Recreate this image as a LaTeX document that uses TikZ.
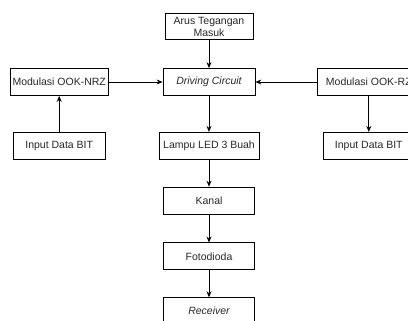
\documentclass[tikz,border=0pt]{standalone}
\usepackage{fontspec}
\setmainfont{Liberation Sans}
\usepackage{tikz}
\usetikzlibrary{positioning}
\usetikzlibrary{arrows.meta}

\begin{document}
\begin{tikzpicture}[blok/.style={rectangle, draw, line width=0.8pt, minimum height=27pt, inner sep=1pt, align=center, text=black!85, font=\fontsize{10.5}{11.5}\selectfont}, panah/.style={-{Stealth[length=6pt, width=5pt]}, line width=0.8pt}]
	\clip (0,0) rectangle (408pt,-321pt);

	\node [blok, minimum width=92pt] (drv) at (209pt,-82pt) {\itshape Driving Circuit};
	\node [blok, minimum width=88pt, minimum height=26pt, above=28pt of drv] (arus) {Arus Tegangan\\Masuk};
	\node [blok, minimum width=98pt, left=54pt of drv] (mod_nrz) {Modulasi OOK-NRZ};
	\node [blok, minimum width=102pt, right=62pt of drv] (mod_rz) {Modulasi OOK-RZ};
	\node [blok, minimum width=92pt, below=36pt of mod_nrz] (in_nrz) {Input Data BIT};
	\node [blok, minimum width=90pt, below=36pt of mod_rz] (in_rz) {Input Data BIT};

	\node [blok, minimum width=100pt, below=36pt of drv] (led) {Lampu LED 3 Buah};
	\node [blok, minimum width=91pt, below=27pt of led] (kanal) {Kanal};
	\node [blok, minimum width=91pt, below=28pt of kanal] (foto) {Fotodioda};
	\node [blok, minimum width=91pt, below=27pt of foto] (rx) {\itshape Receiver};

	\draw[panah] (arus) -- (drv);
	\draw[panah] (mod_nrz) -- (drv);
	\draw[panah] (mod_rz) -- (drv);
	\draw[panah] (in_nrz) -- (mod_nrz);
	\draw[panah] (mod_rz) -- (in_rz);
	\draw[panah] (drv) -- (led);
	\draw[panah] (led) -- (kanal);
	\draw[panah] (kanal) -- (foto);
	\draw[panah] (foto) -- (rx);
\end{tikzpicture}
\end{document}
